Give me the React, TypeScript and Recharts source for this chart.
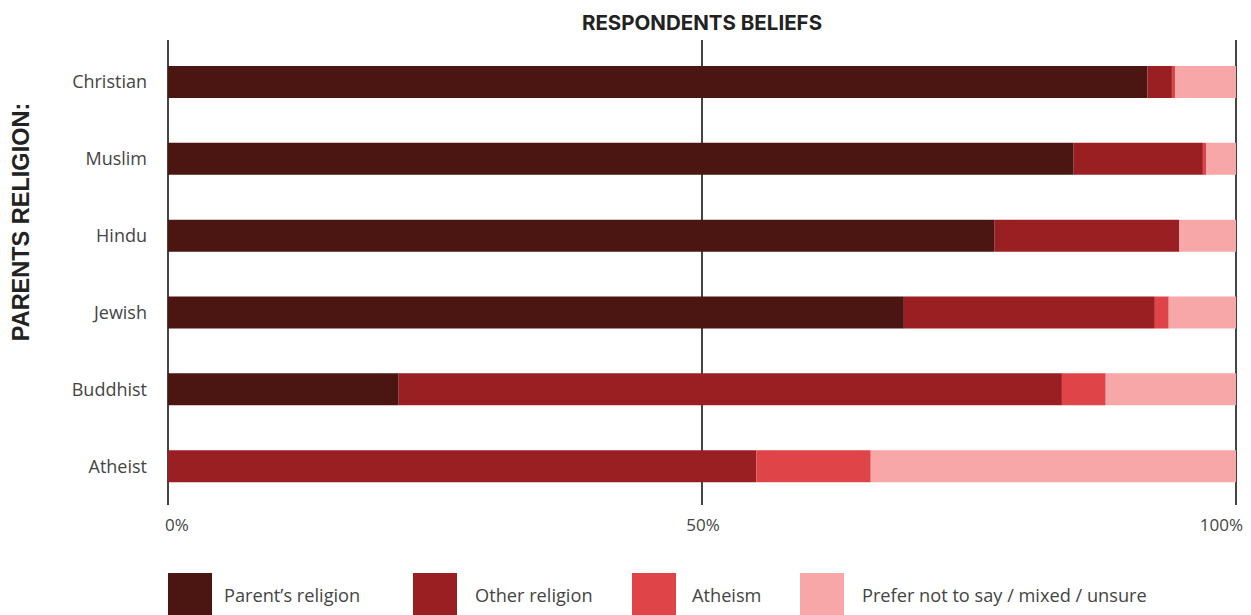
import React from "react";
import { BarChart, Bar, XAxis, YAxis, CartesianGrid } from "recharts";

const categories = ["Christian", "Muslim", "Hindu", "Jewish", "Buddhist", "Atheist"];
const parentsReligion = [91.7, 84.8, 77.4, 68.9, 21.6, 0];
const otherReligion = [2.3, 12.1, 17.3, 23.5, 62.1, 55.1];
const atheism = [0.3, 0.3, 0, 1.3, 4.1, 10.7];
const preferNotToSay = [5.7, 2.8, 5.3, 6.3, 12.2, 34.2];
const xTicks = [0, 50, 100];
const xTickLabels = ["0%", "50%", "100%"];

const seriesNames = ["Parent’s religion", "Other religion", "Atheism", "Prefer not to say / mixed / unsure"];
const seriesKeys = ["parent", "other", "atheism", "prefer"];
const seriesColors = ["#4B1512", "#9A1F23", "#DF4548", "#F7A7A7"];

const data = categories.map((c, i) => ({
  name: c,
  parent: parentsReligion[i],
  other: otherReligion[i],
  atheism: atheism[i],
  prefer: preferNotToSay[i],
}));

const FONT = "'Open Sans', sans-serif";

const XTick = (props: any) => {
  const { x, y, payload } = props;
  const idx = xTicks.indexOf(payload.value);
  const anchor = idx === 0 ? "start" : idx === 2 ? "end" : "middle";
  const dx = idx === 0 ? -3 : idx === 2 ? 7 : 1;
  return (
    <text x={x + dx} y={y + 18} textAnchor={anchor} fill="#444" fontSize={17} fontFamily={FONT}>
      {xTickLabels[idx]}
    </text>
  );
};

const YTick = (props: any) => {
  const { x, y, payload } = props;
  return (
    <text x={x - 13} y={y + 6} textAnchor="end" fill="#444" fontSize={18} fontFamily={FONT}>
      {payload.value}
    </text>
  );
};

const legendX = [168, 413, 632, 800];
const legendGap = [12, 18, 16, 18];

export default function App() {
  return (
    <div style={{ position: "absolute", left: 0, top: 0, width: 1251, height: 615, background: "#fff", overflow: "hidden" }}>
      <div
        style={{
          position: "absolute",
          left: 0,
          width: 1404,
          top: 10,
          textAlign: "center",
          fontFamily: "Inter, sans-serif",
          fontWeight: 700,
          fontSize: 20.5,
          color: "#222",
        }}
      >
        RESPONDENTS BELIEFS
      </div>
      <div
        style={{
          position: "absolute",
          left: 21,
          top: 222,
          transform: "translate(-50%, -50%) rotate(-90deg)",
          whiteSpace: "nowrap",
          fontFamily: "'Liberation Sans', Arial, sans-serif",
          fontWeight: 700,
          fontSize: 23.5,
          color: "#222",
        }}
      >
        PARENTS RELIGION:
      </div>
      <BarChart
        width={1251}
        height={615}
        data={data}
        layout="vertical"
        margin={{ top: 40, right: 15, bottom: 80, left: 0 }}
        barCategoryGap={0}
      >
        <CartesianGrid horizontal={false} vertical={true} stroke="#444" strokeWidth={2} />
        <XAxis
          type="number"
          domain={[0, 100]}
          ticks={xTicks}
          axisLine={false}
          tickLine={false}
          tick={<XTick />}
          height={30}
          interval={0}
        />
        <YAxis
          type="category"
          dataKey="name"
          width={168}
          axisLine={false}
          tickLine={false}
          tick={<YTick />}
          padding={{ top: 4, bottom: 0 }}
        />
        {seriesKeys.map((k, i) => (
          <Bar key={k} dataKey={k} name={seriesNames[i]} stackId="a" fill={seriesColors[i]} barSize={32} isAnimationActive={false} />
        ))}
      </BarChart>
      {seriesNames.map((n, i) => (
        <div key={n} style={{ position: "absolute", left: legendX[i], top: 573, display: "flex", alignItems: "center" }}>
          <div style={{ width: 44, height: 44, background: seriesColors[i] }} />
          <span style={{ marginLeft: legendGap[i], fontFamily: FONT, fontSize: 18.2, color: "#444" }}>{n}</span>
        </div>
      ))}
    </div>
  );
}
